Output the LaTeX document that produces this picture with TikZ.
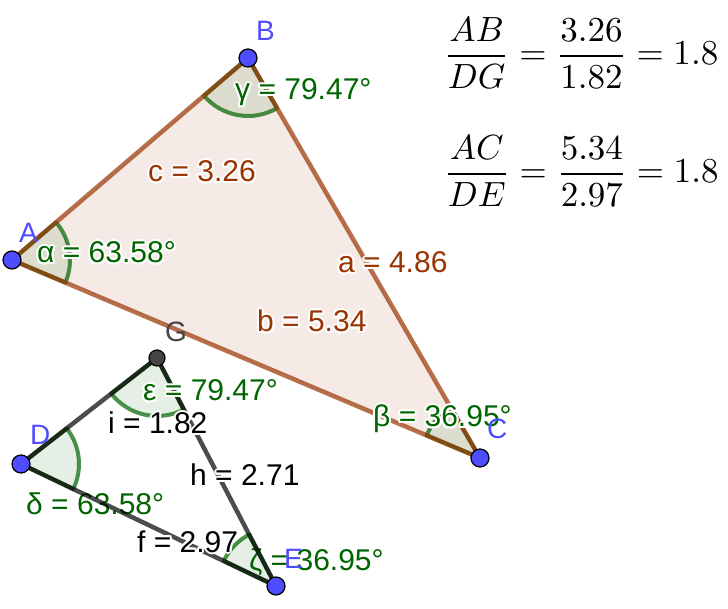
\documentclass[tikz,border=0pt]{standalone}
\usepackage{amsmath}
\usepackage[no-math]{fontspec}
\setmainfont{Liberation Sans}
\usepackage[copies]{contour}
\contourlength{2pt}
\usetikzlibrary{calc,positioning}

\definecolor{ggblue}{RGB}{77,77,255}
\definecolor{gggrey}{RGB}{68,68,68}
\definecolor{ggbrown}{RGB}{153,51,0}
\definecolor{gggreen}{RGB}{0,100,0}

\begin{document}
\begin{tikzpicture}[x=1pt,y=1pt,
    side/.style={draw=ggbrown,draw opacity=0.7,line width=4.5pt},
    sidek/.style={draw=black,draw opacity=0.7,line width=4.5pt},
    sector/.style={draw=gggreen,fill=gggreen,draw opacity=0.7,fill opacity=0.1,line width=4pt,line join=round},
    vtx/.style={circle,draw=black,line width=1.2pt,fill=ggblue,inner sep=0pt,minimum size=18pt},
    ptlab/.style={text=ggblue,inner sep=0pt,anchor=base west,font=\fontsize{28}{32}\selectfont},
    anglab/.style={text=gggreen,inner sep=0pt,anchor=base west,font=\fontsize{30}{36}\selectfont},
    sidelab/.style={text=ggbrown,inner sep=0pt,anchor=base west,font=\fontsize{30}{36}\selectfont},
    sidelabk/.style={sidelab,text=black},
    ratio/.style={anchor=west,inner sep=0pt,scale=3.5},
  ]
    \useasboundingbox (0,0) rectangle (728,608);
    \coordinate (A) at (12,348);
    \coordinate (B) at (248,550);
    \coordinate (C) at (480,150);
    \coordinate (D) at (21,144);
    \coordinate (G) at (157,250);
    \coordinate (E) at (276,22);

    % polygon ABC
    \fill[ggbrown,fill opacity=0.1] (A) -- (B) -- (C) -- cycle;

    % angle sectors
    \draw[sector] (A) -- ++(-22.93:58) arc[start angle=-22.93,end angle=40.56,radius=58] -- cycle;
    \draw[sector] (B) -- ++(220.56:58) arc[start angle=220.56,end angle=300.12,radius=58] -- cycle;
    \draw[sector] (C) -- ++(120.12:58) arc[start angle=120.12,end angle=157.07,radius=58] -- cycle;
    \draw[sector] (D) -- ++(-25.57:58) arc[start angle=-25.57,end angle=37.93,radius=58] -- cycle;
    \draw[sector] (G) -- ++(217.93:58) arc[start angle=217.93,end angle=297.56,radius=58] -- cycle;
    \draw[sector] (E) -- ++(117.56:58) arc[start angle=117.56,end angle=154.43,radius=58] -- cycle;

    \node[anglab] at (26,94) (ldelta) {δ = 63.58°};
    \node[anglab] at (249,38) (lzeta) {ζ = 36.95°};

    % sides
    \draw[side] (A) -- (B);
    \draw[side] (B) -- (C);
    \draw[side] (C) -- (A);
    \draw[sidek] (D) -- (G);
    \draw[sidek] (G) -- (E);
    \draw[sidek] (E) -- (D);

    % points
    \node[vtx] at (A) (pA) {};
    \node[vtx] at (B) (pB) {};
    \node[vtx] at (C) (pC) {};
    \node[vtx] at (D) (pD) {};
    \node[vtx] at (E) (pE) {};
    \node[vtx,fill=gggrey,minimum size=16pt] at (G) (pG) {};

    % labels
    \node[anglab] at (37,345) (lalpha) {\contour{white}{α = 63.58°}};
    \node[anglab] at (235,508) (lgamma) {\contour{white}{γ = 79.47°}};
    \node[anglab] at (373,181) (lbeta) {\contour{white}{β = 36.95°}};
    \node[anglab] at (143,207) (leps) {\contour{white}{ε = 79.47°}};
    \node[sidelab] at (148,426) (lc) {\contour{white}{c = 3.26}};
    \node[sidelab] at (338,335) (la) {\contour{white}{a = 4.86}};
    \node[sidelab] at (257,276) (lb) {\contour{white}{b = 5.34}};
    \node[sidelabk] at (108,174) (li) {\contour{white}{i = 1.82}};
    \node[sidelabk] at (190,122) (lh) {\contour{white}{h = 2.71}};
    \node[sidelabk] at (137,56) (lf) {\contour{white}{f = 2.97}};

    \node[ptlab] at (19,365) (tA) {A};
    \node[ptlab] at (256,567) (tB) {B};
    \node[ptlab] at (487,169) (tC) {C};
    \node[ptlab] at (30,163) (tD) {D};
    \node[ptlab] at (284,40) (tE) {E};
    \node[ptlab,text=gggrey] at (165,266) (tG) {G};

    % ratios
    \node[ratio] at (443,555) (r1) {$\dfrac{AB}{DG} = \dfrac{3.26}{1.82} = 1.8$};
    \node[ratio] at (443,437) (r2) {$\dfrac{AC}{DE} = \dfrac{5.34}{2.97} = 1.8$};
  \end{tikzpicture}
\end{document}
